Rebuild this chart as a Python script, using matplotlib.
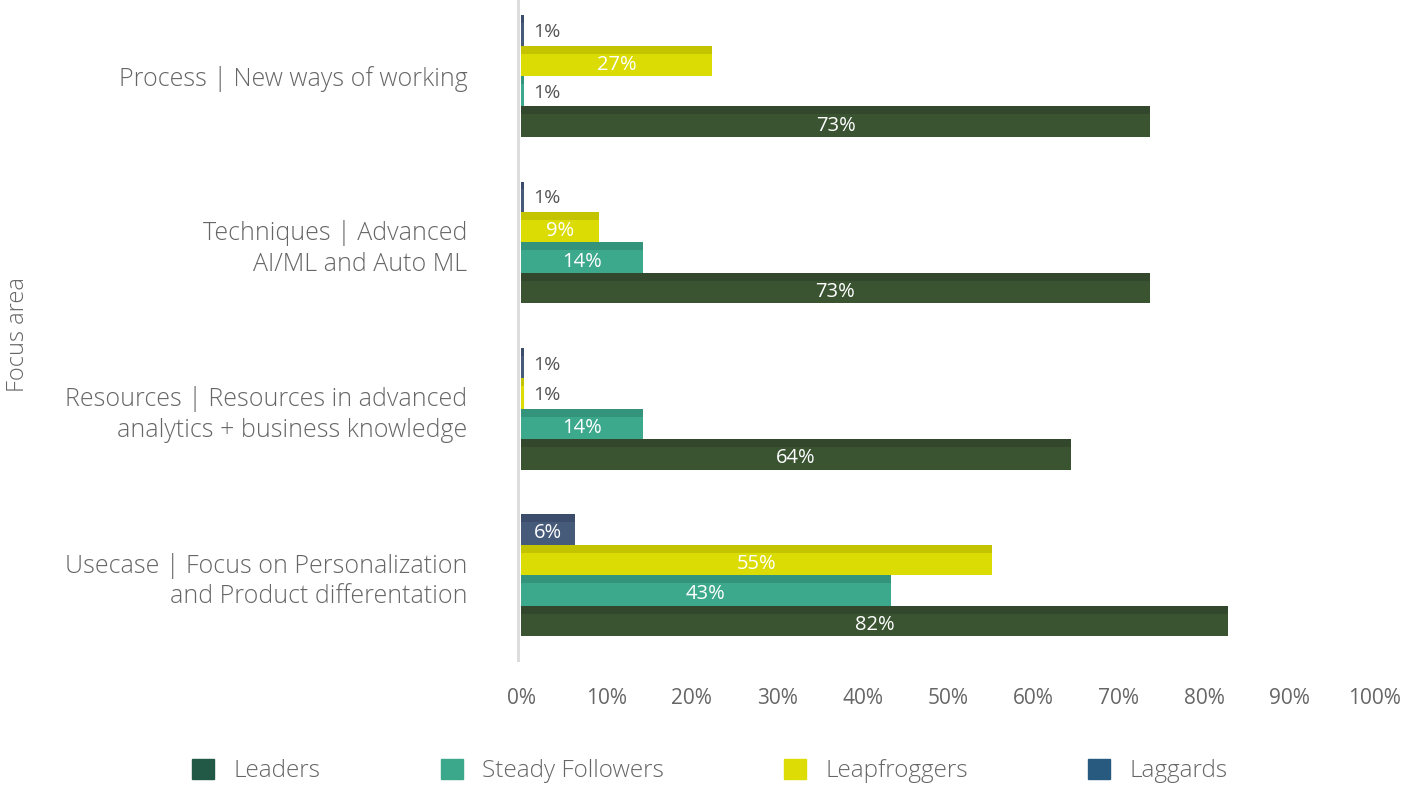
import numpy as np
import matplotlib.pyplot as plt
from matplotlib.patches import Patch

categories = ["Process | New ways of working",
              "Techniques | Advanced\nAI/ML and Auto ML",
              "Resources | Resources in advanced\nanalytics + business knowledge",
              "Usecase | Focus on Personalization\nand Product differentation"]
series = ["Leaders", "Steady Followers", "Leapfroggers", "Laggards"]

# bar lengths as drawn (%), and the printed labels
leaders = [73.7, 73.6, 64.4, 82.8]
steady = [0.4, 14.3, 14.3, 43.3]
leapfroggers = [22.4, 9.1, 0.4, 55.2]
laggards = [0.4, 0.4, 0.4, 6.3]

leaders_lbl = ["73%", "73%", "64%", "82%"]
steady_lbl = ["1%", "14%", "14%", "43%"]
leapfroggers_lbl = ["27%", "9%", "1%", "55%"]
laggards_lbl = ["1%", "1%", "1%", "6%"]

bar_colors = ["#3A5432", "#3CA88C", "#DCDC05", "#465A7A"]
top_colors = ["#33472D", "#33937B", "#C4C300", "#3B4D6A"]
legend_colors = ["#215846", "#3BA88B", "#DDDD05", "#285A80"]

plt.rcParams['font.family'] = ['Open Sans', 'DejaVu Sans']

fig = plt.figure(figsize=(14.21, 7.85), dpi=100)
ax = fig.add_axes([521 / 1421, 1 - 660 / 785, 854 / 1421, 660 / 785])

# spine first: moving it resets tick label styling
for s in ['top', 'right', 'bottom']:
    ax.spines[s].set_visible(False)
ax.spines['left'].set_position(('outward', 2))
ax.spines['left'].set_color('#DDDDDD')
ax.spines['left'].set_linewidth(2.2)

h = 0.183
y = np.arange(len(categories))
offsets = [1.5 * h, 0.5 * h, -0.5 * h, -1.5 * h]
vals = [leaders, steady, leapfroggers, laggards]
lbls = [leaders_lbl, steady_lbl, leapfroggers_lbl, laggards_lbl]
stripe = h * 0.26

for i in range(4):
    yc = y + offsets[i]
    ax.barh(yc, vals[i], height=h, color=bar_colors[i], linewidth=0)
    ax.barh(yc - h / 2 + stripe / 2, vals[i], height=stripe, color=top_colors[i], linewidth=0)
    for j, v in enumerate(vals[i]):
        if v < 3:
            ax.text(1.4, yc[j] + 0.01, lbls[i][j], ha='left', va='center',
                    fontsize=14, color='#555555')
        else:
            ax.text(v / 2, yc[j] + stripe / 2, lbls[i][j], ha='center', va='center',
                    fontsize=14.5, color='white')

ax.set_xlim(0, 100)
ax.set_ylim(3.51, -0.457)
ax.set_yticks(y)
ax.set_yticklabels(categories, fontsize=18, color='#666666', ha='right',
                   fontweight='light', linespacing=1.3)
ax.tick_params(axis='y', length=0, pad=36.5)
ax.set_xticks(np.arange(0, 101, 10))
ax.set_xticklabels([f"{t}%" for t in range(0, 101, 10)], fontsize=15, color='#666666')
ax.tick_params(axis='x', length=0, pad=20)
for t in ax.get_yticklabels():
    t.set_y(t.get_position()[1])

fig.text(18 / 1421, 1 - 335 / 785, "Focus area", rotation=90, ha='center', va='center',
         fontsize=17, color='#666666', fontweight='light')

handles = [Patch(color=c) for c in legend_colors]
fig.legend(handles, series, loc='center', bbox_to_anchor=(710 / 1421, 1 - 771 / 785),
           ncol=4, frameon=False, prop={'size': 17.5, 'weight': 'light'},
           labelcolor='#666666', handlelength=0.9, handleheight=0.9,
           columnspacing=4.95, handletextpad=0.8)

fig.savefig("out.png", dpi=100)
